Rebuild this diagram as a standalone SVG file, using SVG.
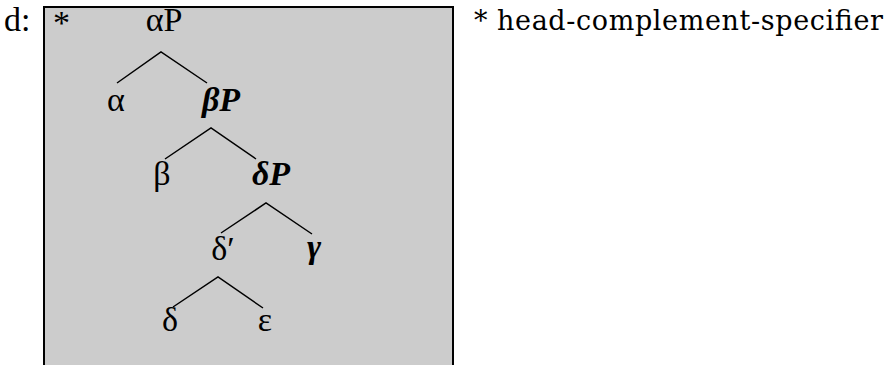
<svg xmlns="http://www.w3.org/2000/svg" width="894" height="365" viewBox="0 0 894 365">
<style>
.t{font-family:"Liberation Serif","Times New Roman",serif;font-size:34px;fill:#000;text-anchor:middle}
.bi{font-weight:bold;font-style:italic}
.lab{font-family:"Liberation Serif","Times New Roman",serif;font-size:34px;fill:#000}
.edge{stroke:#000;stroke-width:1.5;fill:none}
.note{font-family:"DejaVu Serif","Liberation Serif",serif;font-size:27px;fill:#000}
</style>
<rect x="0" y="0" width="894" height="365" fill="#fff"/>
<g id="box">
<rect x="44" y="7" width="409" height="375" fill="#cccccc" stroke="#000" stroke-width="2"/>
</g>
<text class="lab" x="4" y="31">d:</text>
<text class="lab" x="53" y="34">*</text>
<g id="connectors">
<polyline class="edge" points="117,83 161,52 207,83"/>
<polyline class="edge" points="165,159 211,128 256,159"/>
<polyline class="edge" points="221,233 266,203 312,234"/>
<polyline class="edge" points="173,307 218,277 263,308"/>
</g>
<g id="aP"><text class="t" x="164" y="31">αP</text></g>
<g id="a"><text class="t" x="116" y="111">α</text></g>
<g id="bP"><text class="t bi" x="221" y="111">βP</text></g>
<g id="b"><text class="t" x="162" y="185">β</text></g>
<g id="dP"><text class="t bi" x="271" y="185">δP</text></g>
<g id="dbar"><text class="t" x="223" y="260">δ′</text></g>
<g id="g"><text class="t bi" x="314" y="258">γ</text></g>
<g id="d"><text class="t" x="170" y="331">δ</text></g>
<g id="e"><text class="t" x="265" y="331">ε</text></g>
<g id="legend">
<text class="note" x="474" y="30">*</text>
<text class="note" x="497" y="30" textLength="386" lengthAdjust="spacing">head-complement-specifier</text>
</g>
</svg>
